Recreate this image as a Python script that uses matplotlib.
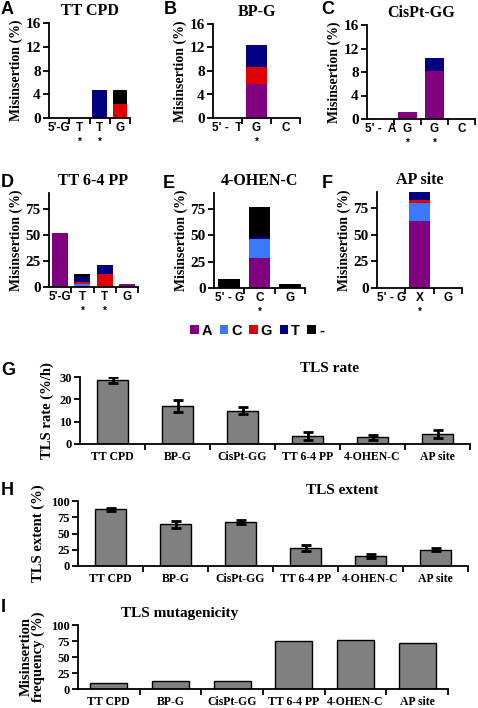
import matplotlib
matplotlib.use("Agg")
import matplotlib.pyplot as plt
from matplotlib.patches import Patch
import numpy as np

W, H = 478, 708

# ---------------- data ----------------
bases = ["A", "C", "G", "T", "-"]
base_colors = ["#800080", "#3A78FF", "#E00000", "#000080", "#000000"]

# Panel A: TT CPD
A_cats = ["5'-G", "T", "T", "G"]
A_star = [0, 1, 1, 0]
A_A = [0, 0, 0, 0]
A_C = [0, 0, 0, 0]
A_G = [0, 0, 0, 2.4]
A_T = [0, 0, 4.7, 0]
A_del = [0, 0, 0, 2.3]

# Panel B: BP-G
B_cats = ["5' -  T", "G", "C"]
B_star = [0, 1, 0]
B_A = [0, 5.8, 0]
B_C = [0, 0, 0]
B_G = [0, 2.8, 0]
B_T = [0, 3.9, 0]
B_del = [0, 0, 0]

# Panel C: CisPt-GG
C_cats = ["5' -  A", "G", "G", "C"]
C_star = [0, 1, 1, 0]
C_A = [0, 1.2, 8.1, 0]
C_C = [0, 0, 0, 0]
C_G = [0, 0, 0, 0]
C_T = [0, 0, 2.3, 0]
C_del = [0, 0, 0, 0]

# Panel D: TT 6-4 PP
D_cats = ["5'-G", "T", "T", "G"]
D_star = [0, 1, 1, 0]
D_A = [52, 1.0, 0, 2.5]
D_C = [0, 1.5, 1.0, 0]
D_G = [0, 2.0, 11.5, 0]
D_T = [0, 5.5, 9.0, 0]
D_del = [0, 2.5, 0, 0]

# Panel E: 4-OHEN-C
E_cats = ["5' - G", "C", "G"]
E_star = [0, 1, 0]
E_A = [0, 28, 0]
E_C = [0, 18, 0]
E_G = [0, 0, 0]
E_T = [0, 2, 0]
E_del = [9, 29, 4]

# Panel F: AP site
F_cats = ["5' - G", "X", "G"]
F_star = [0, 1, 0]
F_A = [0, 63, 0]
F_C = [0, 17, 0]
F_G = [0, 2.5, 0]
F_T = [0, 7.5, 0]
F_del = [0, 0, 0]

# Panels G-I
lesions = ["TT CPD", "BP-G", "CisPt-GG", "TT 6-4 PP", "4-OHEN-C", "AP site"]
tls_rate = [28.5, 17, 15, 3.5, 3, 4.5]
tls_rate_err = [1.3, 2.8, 1.5, 1.8, 1.2, 1.6]
tls_extent = [87, 64, 68, 28, 15, 25]
tls_extent_err = [2, 6, 3, 5, 3, 2]
tls_mutagenicity = [10, 13, 12, 75, 76, 72]

# ---------------- helpers ----------------
SERIF = "Liberation Serif"
SANS = "Liberation Sans"

fig = plt.figure(figsize=(W / 100, H / 100), dpi=100)


def add_ax(l, r, b, t):
    return fig.add_axes([l / W, 1 - b / H, (r - l) / W, (b - t) / H])


def style_axis(ax, n, ylim, yticks, fs_tick):
    ax.set_xlim(-0.5, n - 0.5)
    ax.set_ylim(*ylim)
    ax.set_yticks(yticks)
    for s in ["top", "right"]:
        ax.spines[s].set_visible(False)
    for s in ["left", "bottom"]:
        ax.spines[s].set_linewidth(1.3)
    ax.tick_params(axis="y", direction="out", length=4, width=1.3, pad=2)
    ax.set_xticks(np.arange(n))
    ax.set_xticks(np.arange(n) + 0.5, minor=True)
    ax.tick_params(axis="x", which="major", length=0, pad=3)
    ax.tick_params(axis="x", which="minor", length=4, width=1.3)
    for lab in ax.get_yticklabels():
        lab.set_fontfamily(SERIF)
        lab.set_fontweight("bold")
        lab.set_fontsize(fs_tick)


def stacked_panel(rect, title, cats, stars, stacks, ylim, yticks):
    ax = add_ax(*rect)
    n = len(cats)
    x = np.arange(n)
    bottom = np.zeros(n)
    for vals, col in zip(stacks, base_colors):
        vals = np.array(vals, dtype=float)
        ax.bar(x, vals, bottom=bottom, width=0.72, color=col, edgecolor="none")
        bottom += vals
    style_axis(ax, n, ylim, yticks, 11)
    ax.set_xticklabels(cats, fontfamily=SANS, fontweight="bold", fontsize=8.5)
    for i, s in enumerate(stars):
        if s:
            ax.annotate("*", xy=(i, 0), xycoords=("data", "axes fraction"),
                        xytext=(0, -24), textcoords="offset pixels", ha="center",
                        va="center", fontsize=7, fontfamily=SANS, fontweight="bold")
    ax.set_ylabel("Misinsertion (%)", fontfamily=SERIF, fontweight="bold", fontsize=10,
                  labelpad=2)
    ax.set_title(title, fontfamily=SERIF, fontweight="bold", fontsize=11.5, pad=6)
    return ax


stacked_panel((49, 130, 118, 23), "TT CPD", A_cats, A_star,
              [A_A, A_C, A_G, A_T, A_del], (0, 16), [0, 4, 8, 12, 16])
stacked_panel((213, 300, 118, 24), "BP-G", B_cats, B_star,
              [B_A, B_C, B_G, B_T, B_del], (0, 16), [0, 4, 8, 12, 16])
stacked_panel((367, 475, 119, 25), "CisPt-GG", C_cats, C_star,
              [C_A, C_C, C_G, C_T, C_del], (0, 16), [0, 4, 8, 12, 16])
stacked_panel((49, 138, 287, 193), "TT 6-4 PP", D_cats, D_star,
              [D_A, D_C, D_G, D_T, D_del], (0, 90), [0, 25, 50, 75])
stacked_panel((214, 305, 288, 193), "4-OHEN-C", E_cats, E_star,
              [E_A, E_C, E_G, E_T, E_del], (0, 90), [0, 25, 50, 75])
stacked_panel((377, 462, 288, 192), "AP site", F_cats, F_star,
              [F_A, F_C, F_G, F_T, F_del], (0, 90), [0, 25, 50, 75])

# panel letters
for let, (px, py) in zip("ABCDEF", [(1, 1), (164, 1), (321, 1), (1, 174), (163, 175), (322, 175)]):
    fig.text(px / W, 1 - py / H, let, fontfamily=SANS, fontweight="bold", fontsize=13,
             ha="left", va="top")

# legend
handles = [Patch(facecolor=c, edgecolor="none") for c in base_colors]
fig.legend(handles, bases, loc="center", bbox_to_anchor=(257 / W, 1 - 331 / H), ncol=5,
           frameon=False, handlelength=0.6, handleheight=0.6, handletextpad=0.2,
           columnspacing=0.5, borderpad=0, prop={"family": SANS, "weight": "bold", "size": 10.5})


def simple_bar(rect, vals, errs, ylabel, title, title_xy, ylim, yticks, width):
    ax = add_ax(*rect)
    n = len(vals)
    x = np.arange(n)
    ax.bar(x, vals, width=width, color="#808080", edgecolor="black", linewidth=1.0, zorder=2)
    if errs is not None:
        ax.errorbar(x, vals, yerr=errs, fmt="none", ecolor="black", elinewidth=2,
                    capsize=3.5, capthick=2, zorder=3)
    style_axis(ax, n, ylim, yticks, 9)
    ax.set_xticklabels(lesions, fontfamily=SERIF, fontweight="bold", fontsize=8.5)
    ax.tick_params(axis="x", which="major", pad=5)
    ax.set_ylabel(ylabel, fontfamily=SERIF, fontweight="bold", fontsize=10.5, labelpad=4,
                  linespacing=0.95)
    fig.text(title_xy[0] / W, 1 - title_xy[1] / H, title, fontfamily=SERIF,
             fontweight="bold", fontsize=11, ha="center", va="center")
    return ax


simple_bar((80, 470, 444, 377), tls_rate, tls_rate_err, "TLS rate (%/h)", "TLS rate",
           (330, 368), (0, 30), [0, 10, 20, 30], 0.48)
simple_bar((78, 468, 566, 501), tls_extent, tls_extent_err, "TLS extent (%)", "TLS extent",
           (342, 490), (0, 100), [0, 25, 50, 75, 100], 0.48)
simple_bar((78, 448, 689, 625), tls_mutagenicity, None, "Misinsertion\nfrequency (%)",
           "TLS mutagenicity", (180, 613), (0, 100), [0, 25, 50, 75, 100], 0.6)

for let, (px, py) in zip("GHI", [(1, 362), (1, 482), (1, 599)]):
    fig.text(px / W, 1 - py / H, let, fontfamily=SANS, fontweight="bold", fontsize=13,
             ha="left", va="top")

fig.savefig("out.png", dpi=100)
